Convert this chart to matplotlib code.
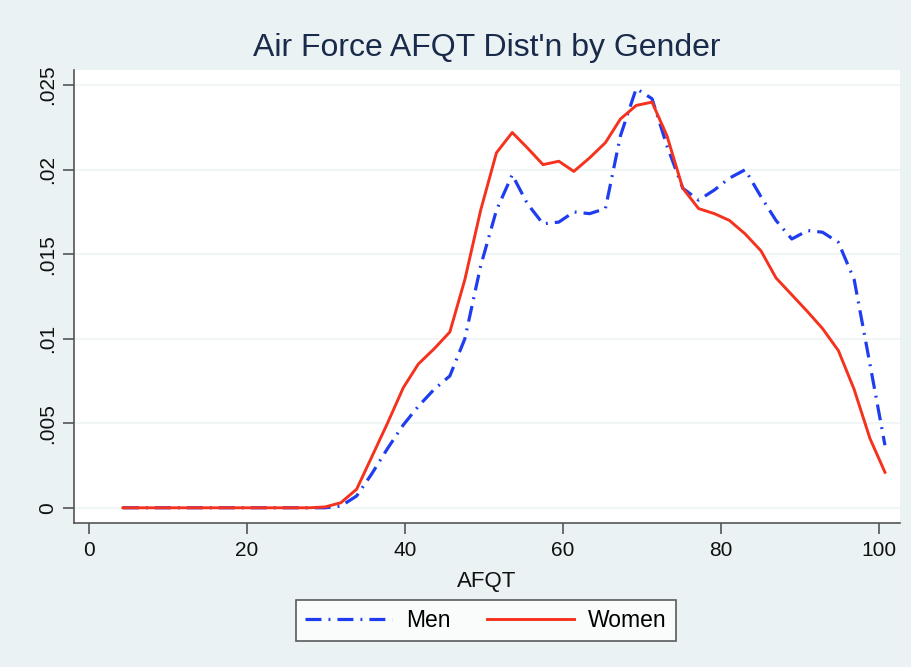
#!/usr/bin/env python3

import matplotlib
matplotlib.use('Agg')
import matplotlib.pyplot as plt

# Evaluation grid of the kernel density (AFQT score)
afqt = [4.3, 6.3, 8.2, 10.2, 12.2, 14.2, 16.1, 18.1, 20.1, 22.0,
        24.0, 26.0, 27.9, 29.9, 31.9, 33.9, 35.8, 37.8, 39.8, 41.7,
        43.7, 45.7, 47.6, 49.6, 51.6, 53.6, 55.5, 57.5, 59.5, 61.4,
        63.4, 65.4, 67.3, 69.3, 71.3, 73.2, 75.2, 77.2, 79.2, 81.1,
        83.1, 85.1, 87.0, 89.0, 91.0, 92.9, 94.9, 96.9, 98.9, 100.8]

men = [0, 0, 0, 0, 0, 0, 0, 0, 0, 0,
       0, 0, 0, 0, 0.0001, 0.0007, 0.0020, 0.0035, 0.0049, 0.0060,
       0.0070, 0.0078, 0.0100, 0.0143, 0.0176, 0.0197, 0.0180, 0.0168, 0.0169, 0.0175,
       0.0174, 0.0177, 0.0220, 0.0248, 0.0242, 0.0214, 0.0189, 0.0182, 0.0188, 0.0195,
       0.0200, 0.0184, 0.0170, 0.0159, 0.0164, 0.0163, 0.0157, 0.0135, 0.0085, 0.0037]

women = [0, 0, 0, 0, 0, 0, 0, 0, 0, 0,
         0, 0, 0, 0.00005, 0.0003, 0.0011, 0.0030, 0.0050, 0.0071, 0.0085,
         0.0094, 0.0104, 0.0135, 0.0176, 0.0210, 0.0222, 0.0213, 0.0203, 0.0205, 0.0199,
         0.0207, 0.0216, 0.0230, 0.0238, 0.0240, 0.0220, 0.0189, 0.0177, 0.0174, 0.0170,
         0.0162, 0.0152, 0.0136, 0.0126, 0.0116, 0.0106, 0.0093, 0.0070, 0.0041, 0.0021]

x_ticks = [0, 20, 40, 60, 80, 100]
y_ticks = [0, 0.005, 0.01, 0.015, 0.02, 0.025]
y_labels = ['0', '.005', '.01', '.015', '.02', '.025']

plt.rcParams['font.family'] = ['Liberation Sans', 'DejaVu Sans']

bg = '#eaf2f3'
fig = plt.figure(figsize=(9.12, 6.67), dpi=100, facecolor=bg)
ax = fig.add_axes([0.0811, 0.2159, 0.9057, 0.6792])
ax.set_facecolor('white')

ax.plot(afqt, men, color='#1f3df0', linewidth=2.3, linestyle=(0, (5, 2.2, 0.6, 2.2)),
        label='Men')
ax.plot(afqt, women, color='#f5321e', linewidth=2.1, label='Women')

ax.set_xlim(-1.9, 102.7)
ax.set_ylim(-0.0009, 0.0259)

ax.set_xticks(x_ticks)
ax.set_yticks(y_ticks)
ax.set_yticklabels(y_labels, rotation=90, va='center')
ax.tick_params(axis='both', labelsize=15, length=8, width=1.2, color='#555555',
               labelcolor='#111111')
ax.tick_params(axis='y', pad=4)
ax.tick_params(axis='x', pad=5)

ax.grid(axis='y', color='#edf3f4', linewidth=1.2)
ax.set_axisbelow(True)
for side in ['top', 'right']:
    ax.spines[side].set_visible(False)
for side in ['left', 'bottom']:
    ax.spines[side].set_color('#555555')
    ax.spines[side].set_linewidth(1.2)

ax.set_xlabel('AFQT', fontsize=16, color='#111111', labelpad=8)
fig.text(0.534, 0.928, "Air Force AFQT Dist'n by Gender", ha='center', va='center',
         fontsize=23, color='#1a2a4a')

leg = fig.legend(loc='center', bbox_to_anchor=(0.533, 0.070), ncol=2, fontsize=16.5,
                 frameon=True, fancybox=False, edgecolor='#333333', handlelength=3.8,
                 columnspacing=1.6, handletextpad=0.6, borderpad=0.4, borderaxespad=0)
leg.get_frame().set_linewidth(1.2)

fig.savefig('out.png', dpi=100, facecolor=bg)
